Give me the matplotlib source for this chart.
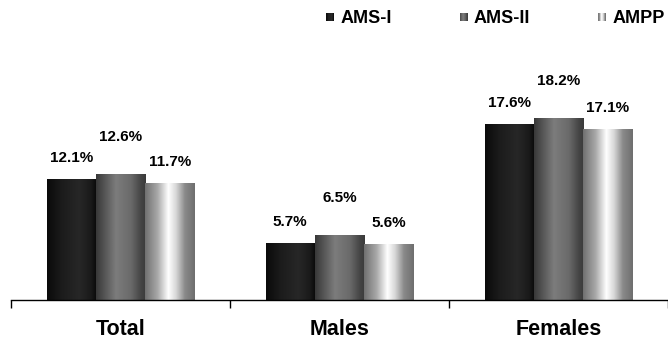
import matplotlib
matplotlib.use("Agg")
import matplotlib.pyplot as plt
import numpy as np
from matplotlib.colors import LinearSegmentedColormap
from matplotlib.legend_handler import HandlerBase
from matplotlib.patches import Rectangle

categories = ["Total", "Males", "Females"]
series_names = ["AMS-I", "AMS-II", "AMPP"]
ams1 = [12.1, 5.7, 17.6]
ams2 = [12.6, 6.5, 18.2]
ampp = [11.7, 5.6, 17.1]
series_values = [ams1, ams2, ampp]

plt.rcParams['font.family'] = ['Liberation Sans', 'DejaVu Sans']

cmaps = [
    LinearSegmentedColormap.from_list("c1", [(0, "#0a0a0a"), (0.3, "#1c1c1c"), (0.65, "#272727"), (0.88, "#1a1a1a"), (1, "#080808")]),
    LinearSegmentedColormap.from_list("c2", [(0, "#383838"), (0.4, "#7c7c7c"), (0.7, "#6a6a6a"), (0.9, "#454545"), (1, "#3a3a3a")]),
    LinearSegmentedColormap.from_list("c3", [(0, "#707070"), (0.25, "#a8a8a8"), (0.47, "#ffffff"), (0.62, "#d8d8d8"), (0.8, "#8a8a8a"), (1, "#6e6e6e")]),
]
grad = np.linspace(0, 1, 256).reshape(1, -1)

fig = plt.figure(figsize=(6.68, 3.43), dpi=100)
ax = fig.add_axes([11/668, 43/343, 657/668, 240/343])
ax.set_xlim(-0.5, 2.5)
ax.set_ylim(0, 24)

x = np.arange(len(categories))
w = 0.225
offsets = [-w, 0, w]
label_pad = [2.1, 3.7, 2.1]
for i, vals in enumerate(series_values):
    bars = ax.bar(x + offsets[i], vals, width=w, color="none", edgecolor="none")
    for b, v in zip(bars, vals):
        x0 = b.get_x()
        im = ax.imshow(grad, cmap=cmaps[i], aspect="auto",
                       extent=[x0, x0 + b.get_width(), 0, v], zorder=2)
        im.set_clip_path(b)
        ax.text(b.get_x() + b.get_width() / 2, v + label_pad[i], f"{v}%",
                ha="center", va="center", fontsize=11, fontweight="bold")
ax.set_xlim(-0.5, 2.5)
ax.set_ylim(0, 24)

for s in ["top", "right", "left"]:
    ax.spines[s].set_visible(False)
ax.spines["bottom"].set_linewidth(1.0)
ax.set_yticks([])
ax.set_xticks(x)
ax.set_xticklabels(categories, fontsize=15.5, fontweight="bold")
ax.tick_params(axis="x", which="major", length=0, pad=14)
ax.set_xticks([-0.5, 0.5, 1.5, 2.5], minor=True)
ax.tick_params(axis="x", which="minor", length=6, width=1.0, direction="out")


class GradHandler(HandlerBase):
    def __init__(self, cmap):
        super().__init__()
        self.cmap = cmap

    def create_artists(self, legend, orig_handle, xdescent, ydescent, width, height, fontsize, trans):
        arts = []
        n = 10
        side = width
        x0 = -xdescent
        y0 = -ydescent + (height - side) / 2
        for k in range(n):
            arts.append(Rectangle((x0 + side * k / n, y0), side / n, side,
                                  facecolor=self.cmap((k + 0.5) / n), edgecolor="none",
                                  transform=trans))
        return arts


handles = [Rectangle((0, 0), 1, 1) for _ in range(3)]
fig.legend(handles, series_names, loc="upper left", bbox_to_anchor=(326/668, 1 - 10/343),
           ncol=3, frameon=False, prop={"weight": "bold", "size": 13},
           handler_map={h: GradHandler(c) for h, c in zip(handles, cmaps)},
           borderpad=0, borderaxespad=0,
           handlelength=0.45, handletextpad=0.35, columnspacing=3.75)

fig.savefig("out.png", dpi=100)
